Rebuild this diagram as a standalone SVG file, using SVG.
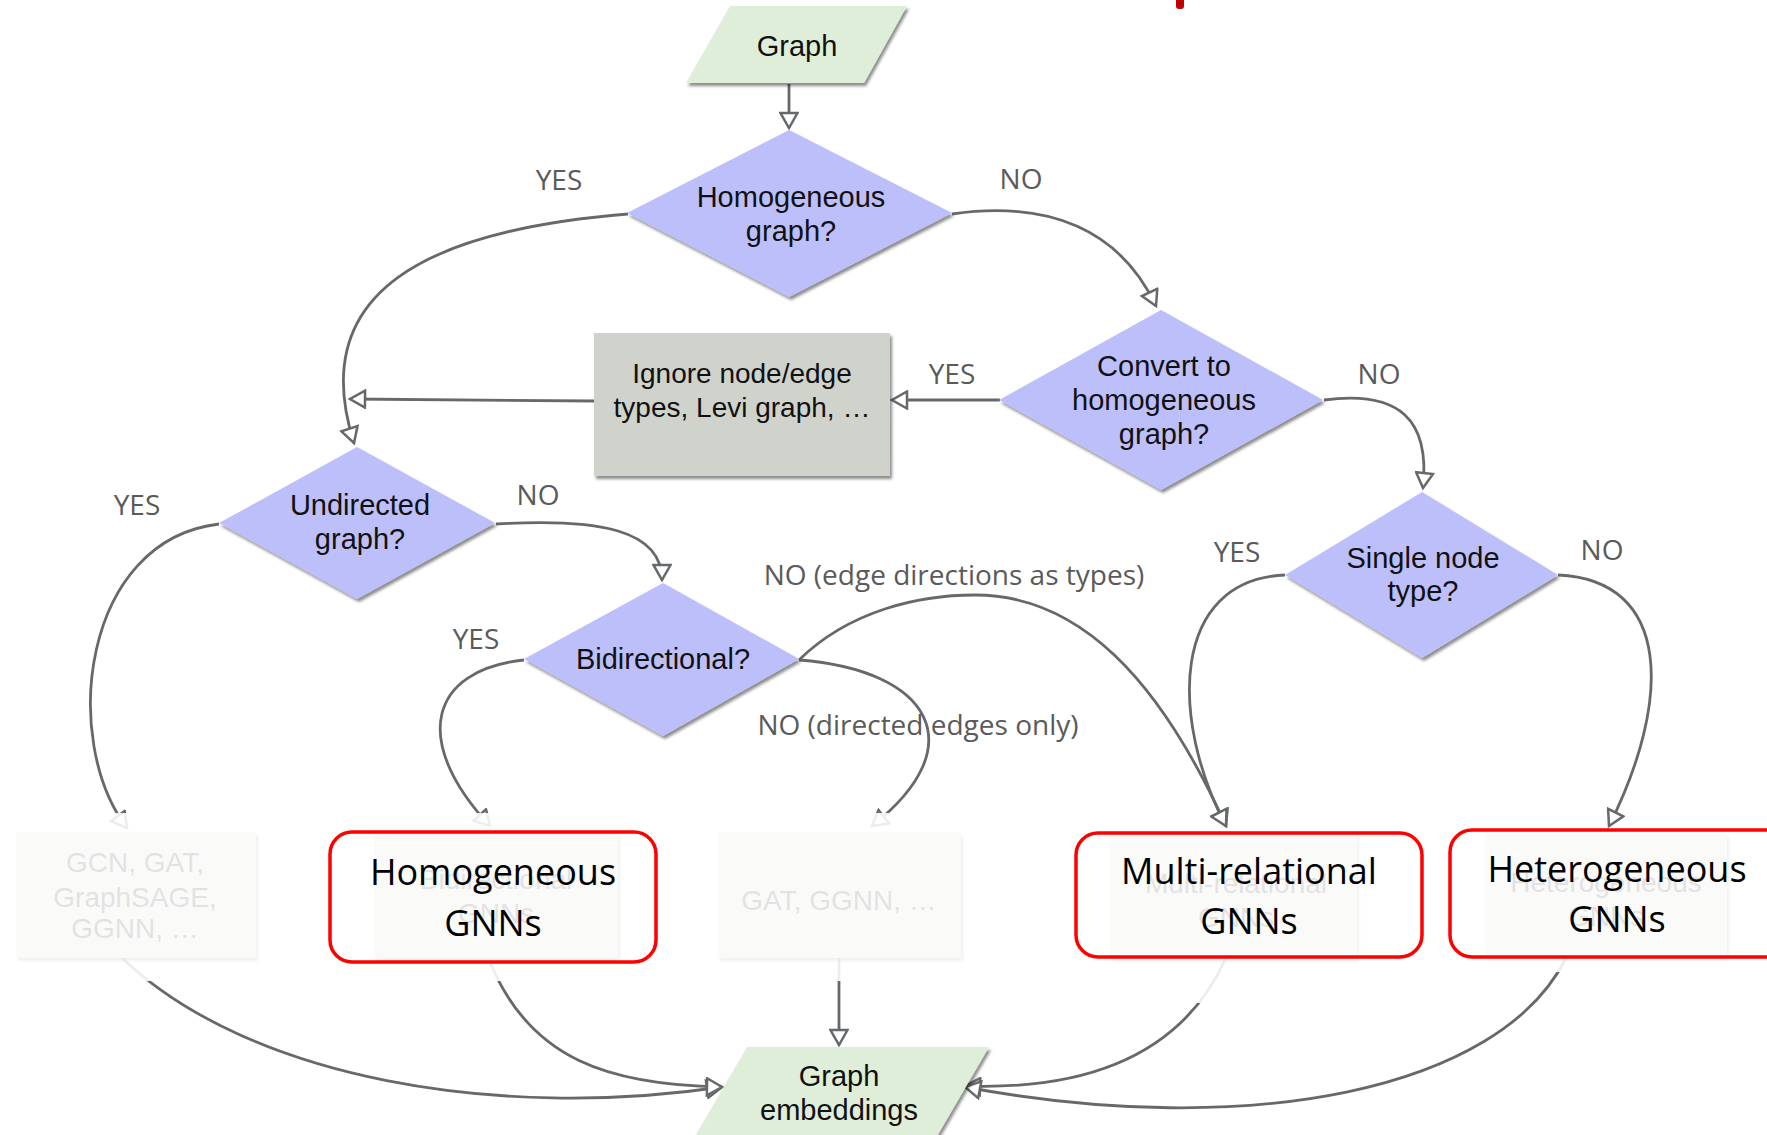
<svg xmlns="http://www.w3.org/2000/svg" width="1767" height="1135" viewBox="0 0 1767 1135">
  <defs>
    <style>
      .node-text { font-family: "Liberation Sans", Arial, sans-serif; font-size: 29px; fill: #111; text-anchor: middle; }
      .box-text { font-family: "Liberation Sans", Arial, sans-serif; font-size: 28px; fill: #111; text-anchor: middle; }
      .label { font-family: "Open Sans", "Liberation Sans", sans-serif; font-size: 28px; fill: #5a5a5a; text-anchor: middle; }
      .model-text { font-family: "Open Sans", "Liberation Sans", sans-serif; font-size: 36px; fill: #000; text-anchor: middle; }
      .diamond { fill: #bdbffb; filter: url(#shadow); }
      .io { fill: #dfeed9; filter: url(#shadow); }
      .step { fill: #d0d3cb; filter: url(#shadow); }
      .conn { fill: none; stroke: #66696b; stroke-width: 2.8; marker-end: url(#arrow); }
      .veil { fill: #ffffff; opacity: 0.88; }
      .focus { fill: none; stroke: #ff0000; stroke-width: 3.5; }
    </style>
    <filter id="shadow" x="-10%" y="-10%" width="125%" height="130%">
      <feDropShadow dx="2" dy="3" stdDeviation="1.5" flood-color="#000" flood-opacity="0.45"/>
    </filter>
    <marker id="arrow" viewBox="0 0 20 20" refX="17" refY="10" markerWidth="20" markerHeight="20" markerUnits="userSpaceOnUse" orient="auto">
      <path d="M2,1.5 L17,10 L2,18.5 Z" fill="#fff" stroke="#66696b" stroke-width="2.5" stroke-linejoin="miter"/>
    </marker>
  </defs>

  <rect width="1767" height="1135" fill="#ffffff"/>

  <!-- small red mark at the top edge -->
  <rect x="1176" y="-6" width="8" height="15" rx="3" fill="#c00000"/>

  <!-- connectors -->
  <g id="connectors">
    <path class="conn" d="M789,84 L789,128"/>
    <path class="conn" d="M628,214 C430,230 305,290 354,443"/>
    <path class="conn" d="M952,214 C1050,200 1120,230 1156,306"/>
    <path class="conn" d="M1000,400 L892,400"/>
    <path class="conn" d="M594,401 L350,399"/>
    <path class="conn" d="M1324,400 C1400,390 1430,420 1423,488"/>
    <path class="conn" d="M496,524 C600,518 662,530 662,580"/>
    <path class="conn" d="M219,524 C82,540 60,740 127,828"/>
    <path class="conn" d="M524,660 C430,670 410,740 490,826"/>
    <path class="conn" d="M799,660 C930,670 975,745 872,826"/>
    <path class="conn" d="M799,660 C850,610 920,595 975,595 C1080,595 1160,680 1226,826"/>
    <path class="conn" d="M1285,575 C1170,580 1170,720 1226,826"/>
    <path class="conn" d="M1558,575 C1672,580 1672,700 1609,826"/>
    <path class="conn" d="M122,958 C250,1080 500,1120 722,1087"/>
    <path class="conn" d="M490,962 C530,1060 610,1085 722,1087"/>
    <path class="conn" d="M839,958 L839,1045"/>
    <path class="conn" d="M1226,958 C1180,1060 1080,1090 965,1086"/>
    <path class="conn" d="M1566,958 C1500,1090 1250,1140 965,1087"/>
  </g>

  <!-- edge labels -->
  <g id="edge-labels">
    <text class="label" x="559" y="190">YES</text>
    <text class="label" x="1021" y="189">NO</text>
    <text class="label" x="952" y="384">YES</text>
    <text class="label" x="1379" y="384">NO</text>
    <text class="label" x="137" y="515">YES</text>
    <text class="label" x="538" y="505">NO</text>
    <text class="label" x="476" y="649">YES</text>
    <text class="label" x="1237" y="562">YES</text>
    <text class="label" x="1602" y="560">NO</text>
    <text class="label" x="954" y="585">NO (edge directions as types)</text>
    <text class="label" x="918" y="735">NO (directed edges only)</text>
  </g>

  <g id="graph">
    <polygon class="io" points="730,6 907,6 864,83 686,83"/>
    <text class="node-text" x="797" y="56">Graph</text>
  </g>

  <g id="homogeneous-graph">
    <polygon class="diamond" points="789,130 952,213 789,297 627,213"/>
    <text class="node-text" x="791" y="207">Homogeneous</text>
    <text class="node-text" x="791" y="241">graph?</text>
  </g>

  <g id="convert">
    <polygon class="diamond" points="1161,310 1323,400 1161,490 999,400"/>
    <text class="node-text" x="1164" y="376">Convert to</text>
    <text class="node-text" x="1164" y="410">homogeneous</text>
    <text class="node-text" x="1164" y="444">graph?</text>
  </g>

  <g id="ignore-types">
    <rect class="step" x="594" y="333" width="296" height="143"/>
    <text class="box-text" x="742" y="383">Ignore node/edge</text>
    <text class="box-text" x="742" y="417">types, Levi graph, …</text>
  </g>

  <g id="undirected">
    <polygon class="diamond" points="357,447 495,523 357,599 219,523"/>
    <text class="node-text" x="360" y="515">Undirected</text>
    <text class="node-text" x="360" y="549">graph?</text>
  </g>

  <g id="bidirectional">
    <polygon class="diamond" points="663,583 799,659 663,736 524,659"/>
    <text class="node-text" x="663" y="669">Bidirectional?</text>
  </g>

  <g id="single-node-type">
    <polygon class="diamond" points="1422,492 1558,575 1422,658 1285,575"/>
    <text class="node-text" x="1423" y="568">Single node</text>
    <text class="node-text" x="1423" y="601">type?</text>
  </g>

  <!-- model boxes (shown washed out) -->
  <g id="gcn-family">
    <rect class="step" x="16" y="832" width="240" height="126"/>
    <text class="box-text" x="135" y="872">GCN, GAT,</text>
    <text class="box-text" x="135" y="907">GraphSAGE,</text>
    <text class="box-text" x="135" y="938">GGNN, …</text>
  </g>
  <g id="bidirectional-gnns">
    <rect class="step" x="374" y="833" width="244" height="125"/>
    <text class="box-text" x="496" y="889">Bidirectional</text>
    <text class="box-text" x="496" y="923">GNNs</text>
  </g>
  <g id="gat-family">
    <rect class="step" x="718" y="832" width="243" height="126"/>
    <text class="box-text" x="839" y="910">GAT, GGNN, …</text>
  </g>
  <g id="multi-relational-base">
    <rect class="step" x="1110" y="832" width="247" height="127"/>
    <text class="box-text" x="1236" y="893">Multi-relational</text>
    <text class="box-text" x="1236" y="927">GNNs</text>
  </g>
  <g id="heterogeneous-base">
    <rect class="step" x="1485" y="833" width="242" height="124"/>
    <text class="box-text" x="1606" y="892">Heterogeneous</text>
    <text class="box-text" x="1606" y="926">GNNs</text>
  </g>

  <!-- white wash over the model row -->
  <g id="wash">
    <rect class="veil" x="0" y="813" width="985" height="168"/>
    <rect class="veil" x="1085" y="830" width="290" height="173"/>
    <rect class="veil" x="1440" y="830" width="327" height="142"/>
  </g>

  <g id="homogeneous-gnns">
    <rect class="focus" x="330" y="832" width="326" height="130" rx="22"/>
    <text class="model-text" x="493" y="885">Homogeneous</text>
    <text class="model-text" x="493" y="936">GNNs</text>
  </g>
  <g id="multi-relational-gnns">
    <rect class="focus" x="1076" y="833" width="346" height="124" rx="22"/>
    <text class="model-text" x="1249" y="884">Multi-relational</text>
    <text class="model-text" x="1249" y="934">GNNs</text>
  </g>
  <g id="heterogeneous-gnns">
    <rect class="focus" x="1450" y="830" width="345" height="127" rx="22"/>
    <text class="model-text" x="1617" y="882">Heterogeneous</text>
    <text class="model-text" x="1617" y="932">GNNs</text>
  </g>

  <g id="graph-embeddings">
    <polygon class="io" points="747,1047 989,1047 929,1150 687,1150"/>
    <text class="node-text" x="839" y="1086">Graph</text>
    <text class="node-text" x="839" y="1120">embeddings</text>
  </g>
</svg>
